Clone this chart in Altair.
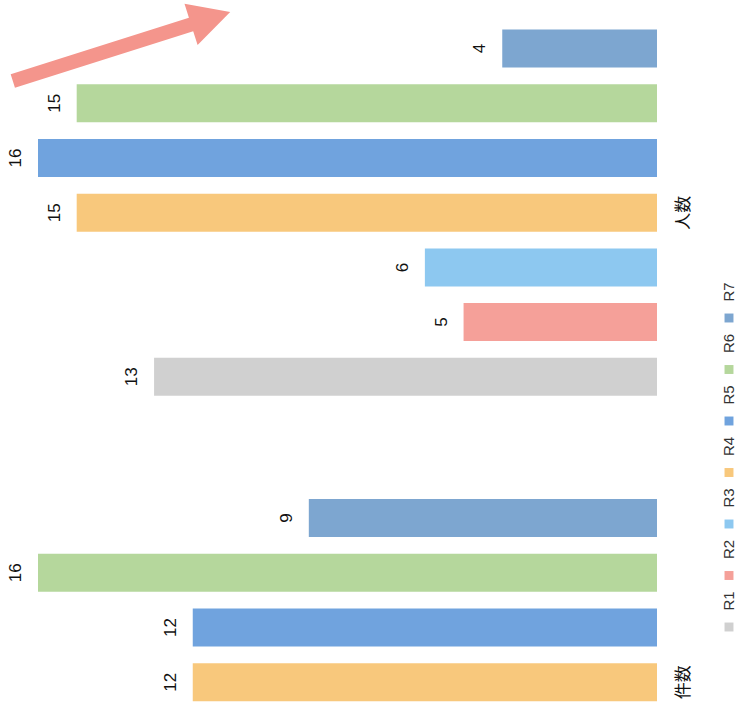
import altair as alt
import pandas as pd

# Grouped counts: cases (件数) and people (人数) per series R1..R7
groups = ["人数", "件数"]
series = ["R1", "R2", "R3", "R4", "R5", "R6", "R7"]
colors = ["#d0d0d0", "#f5a099", "#8dc8f0", "#f8c87c", "#70a3de", "#b5d79c", "#7da6d0"]

kensu_series = ["R4", "R5", "R6", "R7"]
kensu_values = [12, 12, 16, 9]
ninzu_series = ["R1", "R2", "R3", "R4", "R5", "R6", "R7"]
ninzu_values = [13, 5, 6, 15, 16, 15, 4]

rows = (
    [{"group": "件数", "series": s, "value": v} for s, v in zip(kensu_series, kensu_values)]
    + [{"group": "人数", "series": s, "value": v} for s, v in zip(ninzu_series, ninzu_values)]
)
df = pd.DataFrame(rows)
legend_df = pd.DataFrame({"series": series})

W, H = 619, 715
color_scale = alt.Scale(domain=series, range=colors)
x_scale = alt.Scale(domain=[0, 16], reverse=True)
y_scale = alt.Scale(domain=groups, range=[29.6, 865.3], paddingInner=0.22, paddingOuter=0)
off_scale = alt.Scale(domain=series[::-1], paddingInner=0.305, paddingOuter=0)

base = alt.Chart(df)

bars = base.mark_bar().encode(
    x=alt.X("value:Q", scale=x_scale, axis=None),
    y=alt.Y(
        "group:N",
        scale=y_scale,
        axis=alt.Axis(
            orient="right", title=None, domain=False, ticks=False, tickSize=0,
            labelAngle=270, labelAlign="center", labelBaseline="middle",
            labelPadding=26, labelFont="Noto Sans CJK JP", labelFontSize=17,
            labelColor="#111111",
        ),
    ),
    yOffset=alt.YOffset("series:N", scale=off_scale),
    color=alt.Color("series:N", scale=color_scale, legend=None),
)

labels = base.mark_text(
    angle=270, align="center", baseline="middle", dy=-22,
    font="Liberation Sans", fontSize=17, color="#111111",
).encode(
    x=alt.X("value:Q", scale=x_scale, axis=None),
    y=alt.Y("group:N", scale=y_scale),
    yOffset=alt.YOffset("series:N", scale=off_scale),
    text=alt.Text("value:Q"),
)

# Rotated legend along the right edge
leg_y = alt.Y("series:N", scale=alt.Scale(type="point", domain=series[::-1], range=[318, 627], padding=0), axis=None)
legend_marks = alt.Chart(legend_df).mark_square(size=80, opacity=1).encode(
    x=alt.value(691),
    y=leg_y,
    color=alt.Color("series:N", scale=color_scale, legend=None),
)
legend_text = alt.Chart(legend_df).mark_text(
    angle=270, align="center", baseline="middle", dx=26,
    font="Liberation Sans", fontSize=15, color="#333333",
).encode(
    x=alt.value(691),
    y=leg_y,
    text="series:N",
)

# Upward arrow annotation in the top-left corner
arrow = alt.Chart(pd.DataFrame({"k": [0]})).mark_point(
    shape="M-1,-0.062L0.64,-0.062L0.64,-0.19L1,0L0.64,0.19L0.64,0.062L-1,0.062Z",
    filled=True, color="#f4958c", opacity=1, size=52000, angle=342.4,
).encode(x=alt.value(121.5 - 38), y=alt.value(46.5))

main = alt.layer(bars, labels)
legend = alt.layer(legend_marks, legend_text)

chart = alt.layer(main, legend, arrow).resolve_scale(y="independent").properties(
    width=W, height=H,
    padding={"left": 38, "top": 0, "right": 87, "bottom": 0},
    autosize=alt.AutoSizeParams(type="none"),
    background="white",
).configure_view(stroke=None)

chart.save("out.html", embed_options={"renderer": "svg", "actions": False})
